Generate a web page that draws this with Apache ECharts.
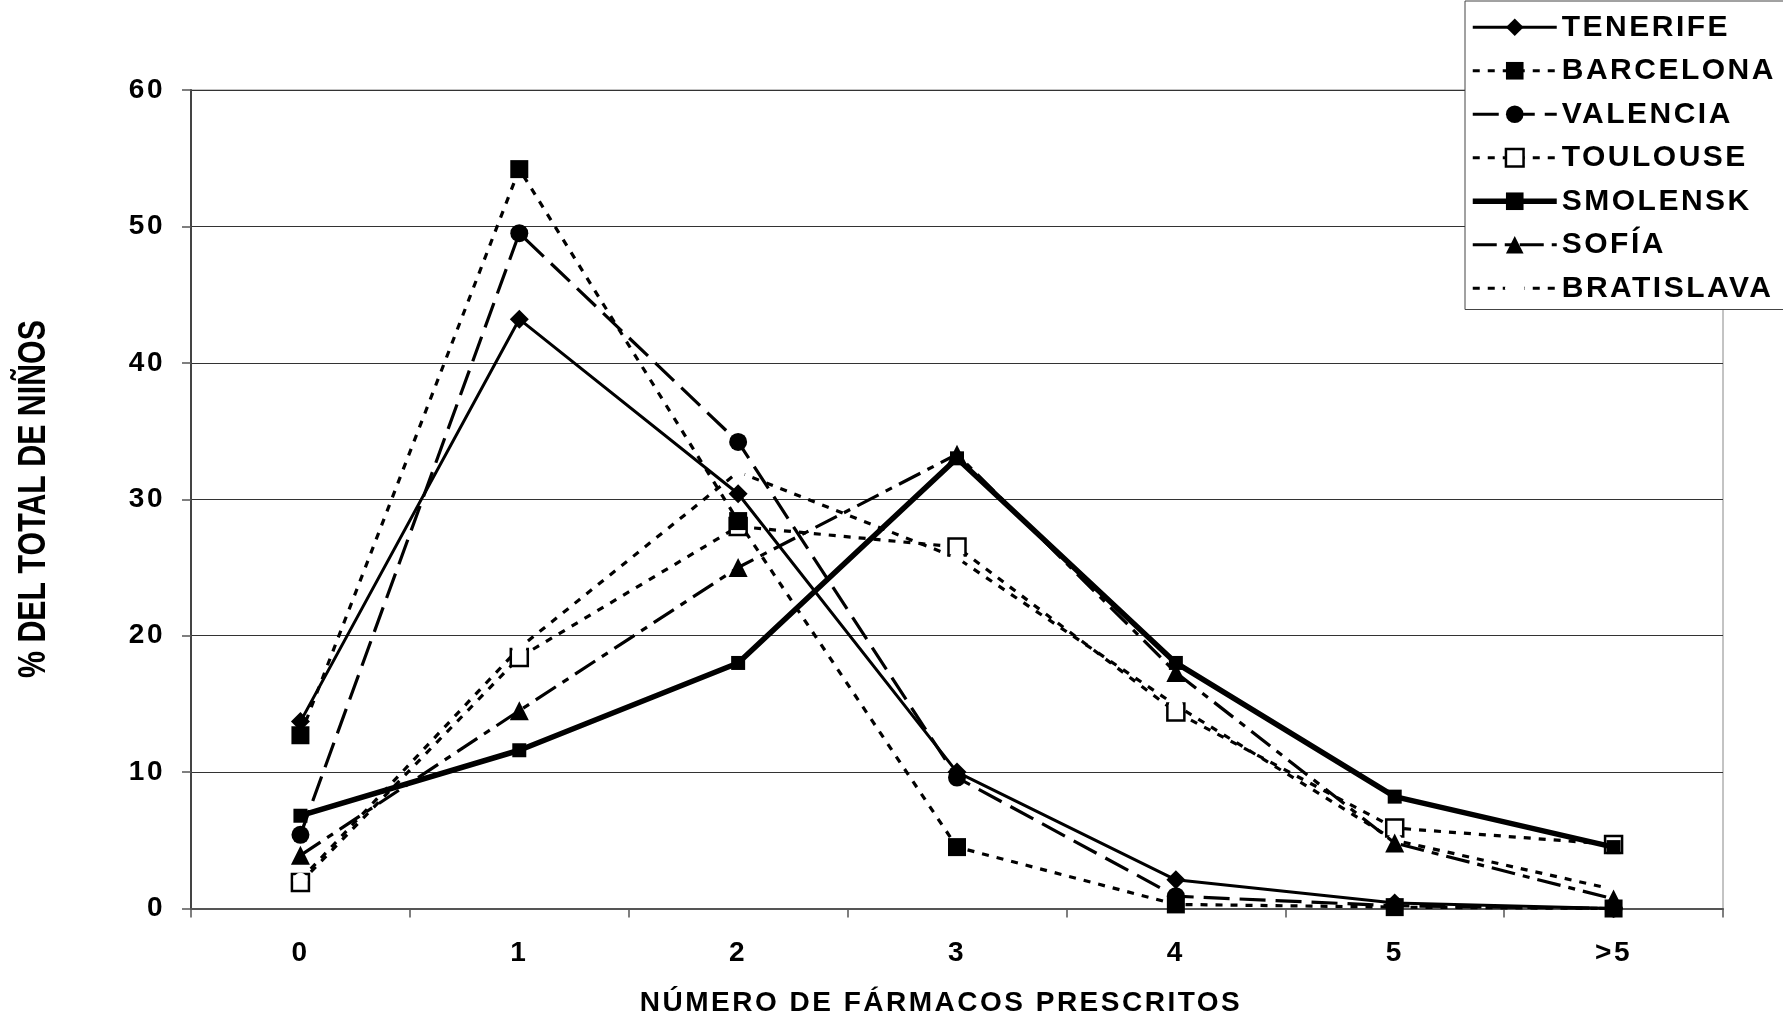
<!DOCTYPE html>
<html>
<head>
<meta charset="utf-8">
<style>
html,body{margin:0;padding:0;background:#fff;}
#chart{width:1783px;height:1024px;}
</style>
<script src="https://cdn.jsdelivr.net/npm/echarts@6/dist/echarts.min.js"></script>
</head>
<body>
<div id="chart"></div>
<script>
// ---- data ----
const categories = ['0', '1', '2', '3', '4', '5', '>5'];
const seriesNames = ['TENERIFE', 'BARCELONA', 'VALENCIA', 'TOULOUSE', 'SMOLENSK', 'SOFÍA', 'BRATISLAVA'];
const tenerife   = [13.7, 43.2, 30.4, 10.0, 2.1, 0.4, 0.0];
const barcelona  = [12.7, 54.2, 28.4, 4.5, 0.3, 0.1, 0.0];
const valencia   = [5.4, 49.5, 34.2, 9.6, 0.9, 0.2, 0.0];
const toulouse   = [1.9, 18.4, 28.0, 26.5, 14.4, 5.9, 4.7];
const smolensk   = [6.8, 11.6, 18.0, 33.0, 18.0, 8.2, 4.5];
const sofia      = [3.9, 14.5, 25.0, 33.3, 17.3, 4.8, 0.7];
const bratislava = [2.1, 19.1, 32.0, 25.7, 14.9, 5.0, 1.4];
const yTicks = [0, 10, 20, 30, 40, 50, 60];
const xTitle = 'NÚMERO DE FÁRMACOS PRESCRITOS';
const yTitle = '% DEL TOTAL DE NIÑOS';

// letter spacing for the wide bold text (canvas letterSpacing)
(function () {
  const proto = CanvasRenderingContext2D.prototype;
  const desc = Object.getOwnPropertyDescriptor(proto, 'font');
  if (!desc || !('letterSpacing' in proto)) return;
  Object.defineProperty(proto, 'font', {
    configurable: true,
    get() { return desc.get.call(this); },
    set(v) {
      desc.set.call(this, v);
      this.letterSpacing = (/bold/.test(v) && !/37px/.test(v)) ? '2.5px' : '0px';
    }
  });
})();

const FONT = "'Liberation Sans', Arial, sans-serif";
const chart = echarts.init(document.getElementById('chart'), null, {renderer: 'canvas'});

const styles = {
  'TENERIFE':   {symbol: 'diamond', size: 19, width: 3, z: 5},
  'BARCELONA':  {symbol: 'rect', size: 18, width: 3.2, dash: [7, 8], z: 4},
  'VALENCIA':   {symbol: 'circle', size: 18, width: 3.2, dash: [26, 10], z: 4},
  'TOULOUSE':   {symbol: 'rect', size: 17, width: 3.2, dash: [7, 8], fill: '#fff', border: 2.5, z: 3},
  'SMOLENSK':   {symbol: 'rect', size: 14, width: 5.5, z: 6},
  'SOFÍA':      {symbol: 'triangle', size: 19, width: 3.2, dash: [24, 8, 7, 8], z: 4},
  'BRATISLAVA': {symbol: 'emptyCircle', size: 12, width: 3.2, dash: [7, 8], fill: '#fff', border: 2, z: 3}
};
const seriesData = [tenerife, barcelona, valencia, toulouse, smolensk, sofia, bratislava];

const series = seriesNames.map(function (name, i) {
  const o = styles[name];
  return {
    name: name,
    type: 'line',
    data: seriesData[i],
    symbol: o.symbol,
    symbolSize: o.size,
    lineStyle: {color: '#000', width: o.width, type: o.dash || 'solid'},
    itemStyle: {color: o.fill || '#000', borderColor: '#000', borderWidth: o.border || 0},
    z: o.z,
    animation: false
  };
});

const legendData = seriesNames.map(function (name) {
  const o = styles[name];
  return {name: name, lineStyle: {width: o.width, type: o.dash || 'solid', color: '#000'},
          itemStyle: {color: o.fill || '#000', borderColor: '#000', borderWidth: o.border || 0}};
});

const option = {
  backgroundColor: '#fff',
  animation: false,
  grid: {left: 191, right: 60, top: 90, bottom: 115, show: true, borderColor: '#888', borderWidth: 1},
  legend: {
    orient: 'vertical',
    left: 1465, top: 1,
    padding: [10, 10, 5, 5],
    itemWidth: 84, itemHeight: 22, itemGap: 11,
    borderColor: '#444', borderWidth: 1,
    backgroundColor: '#fff',
    textStyle: {fontFamily: FONT, fontWeight: 'bold', fontSize: 30, lineHeight: 30, color: '#000'},
    data: legendData
  },
  xAxis: {
    type: 'category',
    data: categories,
    boundaryGap: true,
    axisLine: {lineStyle: {color: '#555', width: 2}},
    axisTick: {show: true, length: 9, lineStyle: {color: '#555', width: 1.5}},
    axisLabel: {fontFamily: FONT, fontWeight: 'bold', fontSize: 28, color: '#000', margin: 30},
    name: xTitle,
    nameLocation: 'middle',
    nameGap: 80,
    nameTextStyle: {fontFamily: FONT, fontWeight: 'bold', fontSize: 28, color: '#000', padding: [0, 32, 0, 0]}
  },
  yAxis: {
    type: 'value',
    min: 0, max: 60, interval: 10,
    axisLine: {show: true, lineStyle: {color: '#444', width: 2}},
    axisTick: {show: true, length: 9, lineStyle: {color: '#555', width: 1.5}},
    splitLine: {lineStyle: {color: '#333', width: 1}},
    axisLabel: {fontFamily: FONT, fontWeight: 'bold', fontSize: 28, color: '#000', margin: 26,
      formatter: function (v) { return yTicks.indexOf(v) >= 0 ? String(v) : ''; }}
  },
  graphic: [{
    type: 'text',
    x: 34, y: 499,
    rotation: Math.PI / 2,
    scaleX: 0.82, scaleY: 1.05,
    style: {
      text: yTitle,
      font: "bold 37px 'Liberation Sans', Arial, sans-serif",
      fill: '#000',
      align: 'center',
      verticalAlign: 'middle'
    }
  }],
  series: series
};
chart.setOption(option);
</script>
</body>
</html>
